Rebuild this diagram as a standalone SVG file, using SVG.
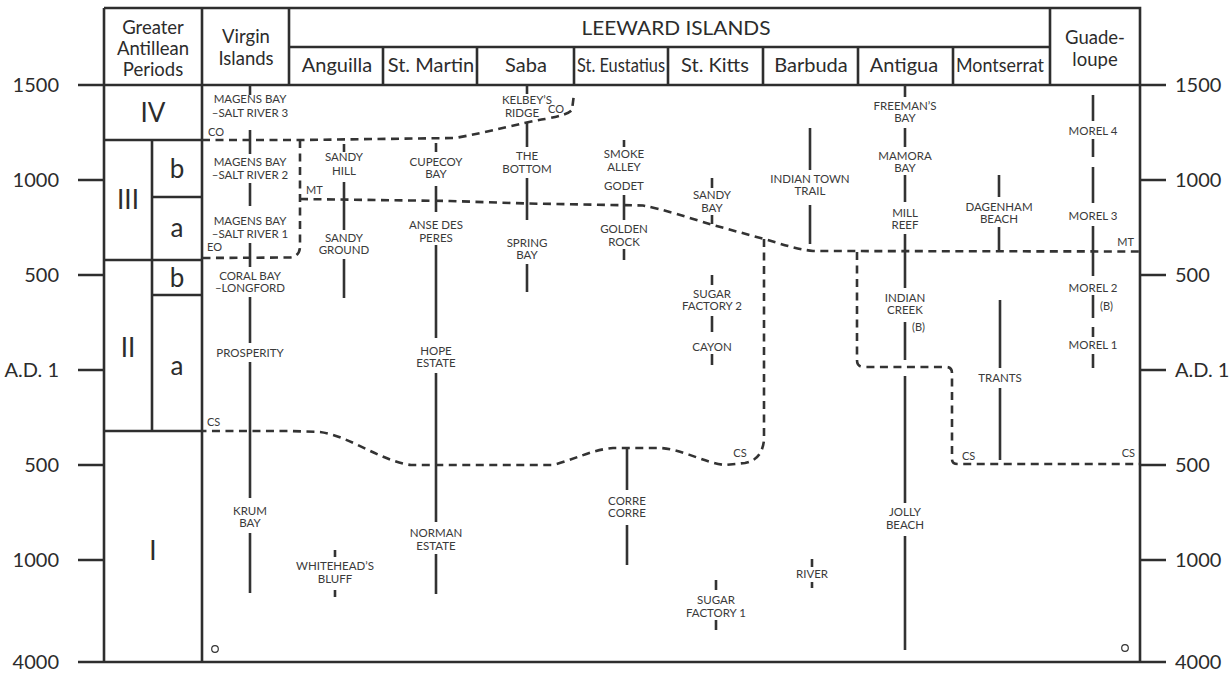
<svg xmlns="http://www.w3.org/2000/svg" width="1232" height="673" viewBox="0 0 1232 673">
<style>
text{font-family:Lato,"Open Sans","Liberation Sans",sans-serif;fill:#2c2c2c}
.fr{stroke:#2e2e2e;stroke-width:2.6;fill:none}
.sl{stroke:#333;stroke-width:2.6;fill:none}
.ds{stroke:#333;stroke-width:2.6;stroke-dasharray:8 5.5;fill:none}
.hd{font-size:20px;text-anchor:middle}
.hs{font-size:18.5px;text-anchor:middle}
.pd{font-size:26px;text-anchor:middle}
.lb{font-size:11.5px;text-anchor:middle;fill:#3a3a3a}
.tg{font-size:11px;fill:#3a3a3a}
.axl{font-size:20px;text-anchor:end}
.axr{font-size:20px;text-anchor:start}
</style>
<rect width="1232" height="673" fill="#fff"/>

<g id="frame" class="fr">
<path d="M104,8 H1140 V662 M104,8 V662 M78,662 H1166 M78,85 H1166"/>
<path d="M202,8 V662 M289,8 V85 M289,47 H1050 M1050,8 V85"/>
<path d="M383,47 V85 M477,47 V85 M574,47 V85 M668,47 V85 M763,47 V85 M858,47 V85 M953,47 V85"/>
<path d="M104,140 H202 M104,260 H202 M104,431 H202 M152,140 V431 M152,197 H202 M152,295 H202"/>
<path d="M78,180 H104 M78,275 H104 M78,370 H104 M78,465 H104 M78,560 H104"/>
<path d="M1140,180 H1166 M1140,275 H1166 M1140,370 H1166 M1140,465 H1166 M1140,560 H1166"/>
</g>

<g id="axis-left">
<text class="axl" x="59" y="92">1500</text>
<text class="axl" x="59" y="187">1000</text>
<text class="axl" x="59" y="282">500</text>
<text class="axl" x="59" y="377">A.D. 1</text>
<text class="axl" x="59" y="472">500</text>
<text class="axl" x="59" y="567">1000</text>
<text class="axl" x="59" y="669">4000</text>
</g>
<g id="axis-right">
<text class="axr" x="1175" y="92">1500</text>
<text class="axr" x="1175" y="187">1000</text>
<text class="axr" x="1175" y="282">500</text>
<text class="axr" x="1175" y="377">A.D. 1</text>
<text class="axr" x="1175" y="472">500</text>
<text class="axr" x="1175" y="567">1000</text>
<text class="axr" x="1175" y="669">4000</text>
</g>

<g id="headers">
<text class="hs" x="153" y="34">Greater</text>
<text class="hs" x="153" y="55">Antillean</text>
<text class="hs" x="153" y="76">Periods</text>
<text class="hs" x="246" y="43">Virgin</text>
<text class="hs" x="246" y="65">Islands</text>
<text class="hd" x="676" y="35" font-size="19" textLength="189" lengthAdjust="spacingAndGlyphs">LEEWARD ISLANDS</text>
<text class="hd" x="337" y="72">Anguilla</text>
<text class="hd" x="431" y="72">St. Martin</text>
<text class="hd" x="526" y="72">Saba</text>
<text class="hd" x="621" y="72" textLength="88" lengthAdjust="spacingAndGlyphs">St. Eustatius</text>
<text class="hd" x="715" y="72">St. Kitts</text>
<text class="hd" x="811" y="72">Barbuda</text>
<text class="hd" x="904" y="72">Antigua</text>
<text class="hd" x="1000" y="72" textLength="88" lengthAdjust="spacingAndGlyphs">Montserrat</text>
<text class="hs" x="1095" y="44">Guade-</text>
<text class="hs" x="1095" y="66">loupe</text>
</g>

<g id="periods">
<text class="pd" x="153" y="122">IV</text>
<text class="pd" x="128" y="209">III</text>
<text class="pd" x="177" y="178">b</text>
<text class="pd" x="177" y="237">a</text>
<text class="pd" x="128" y="357">II</text>
<text class="pd" x="177" y="287">b</text>
<text class="pd" x="177" y="375">a</text>
<text class="pd" x="153" y="560">I</text>
</g>

<g id="connectors">
<path class="ds" d="M202,140 L300,140 L455,138 C490,132 520,123 545,119 Q568,115 572,110 L574,94"/>
<path class="ds" d="M300,140 L300,246 Q300,257 289,257.5 L202,258"/>
<path class="ds" d="M300,199 L450,201 L527,203.5 L643,205.5 C662,209 690,218 713,225 L764,239 C782,244 795,249 813,251 L1140,251.5"/>
<path class="ds" d="M764,239 L764,440 Q762,460 745,463 L725,465 C705,463 682,449 660,448 L613,448 C595,449 575,459 553,465 L411,465 C380,461 350,436 320,432 L290,431 L202,431"/>
<path class="ds" d="M857,252 L857,360 Q857,367 864,367 L946,367 Q952,367 952,373 L952,459 Q952,464 958,464 L1140,464"/>
<text class="tg" x="208" y="136">CO</text>
<text class="tg" x="548" y="113">CO</text>
<text class="tg" x="207" y="251">EO</text>
<text class="tg" x="306" y="194">MT</text>
<text class="tg" x="1134" y="246" text-anchor="end">MT</text>
<text class="tg" x="207" y="426">CS</text>
<text class="tg" x="740" y="457" text-anchor="middle">CS</text>
<text class="tg" x="962" y="460">CS</text>
<text class="tg" x="1135" y="457" text-anchor="end">CS</text>
</g>

<g id="virgin-islands">
<path class="sl" d="M250,85 V95 M250,130 V154 M250,183 V206 M250,243 V267 M250,297 V343 M250,362 V498 M250,533 V593"/>
<text class="lb" x="250" y="103">MAGENS BAY</text>
<text class="lb" x="250" y="117">–SALT RIVER 3</text>
<text class="lb" x="250" y="166">MAGENS BAY</text>
<text class="lb" x="250" y="179">–SALT RIVER 2</text>
<text class="lb" x="250" y="225">MAGENS BAY</text>
<text class="lb" x="250" y="238">–SALT RIVER 1</text>
<text class="lb" x="250" y="280">CORAL BAY</text>
<text class="lb" x="250" y="292">–LONGFORD</text>
<text class="lb" x="250" y="357">PROSPERITY</text>
<text class="lb" x="250" y="515">KRUM</text>
<text class="lb" x="250" y="527">BAY</text>
</g>

<g id="anguilla">
<path class="sl" d="M344,144 V152 M344,182 V230 M344,259 V298 M335,550 V557 M335,590 V597"/>
<text class="lb" x="344" y="161">SANDY</text>
<text class="lb" x="344" y="175">HILL</text>
<text class="lb" x="344" y="242">SANDY</text>
<text class="lb" x="344" y="254">GROUND</text>
<text class="lb" x="335" y="570">WHITEHEAD’S</text>
<text class="lb" x="335" y="583">BLUFF</text>
</g>

<g id="st-martin">
<path class="sl" d="M436,143 V152 M436,186 V212 M436,245 V338 M436,373 V522 M436,554 V594"/>
<text class="lb" x="436" y="166">CUPECOY</text>
<text class="lb" x="436" y="178">BAY</text>
<text class="lb" x="436" y="229">ANSE DES</text>
<text class="lb" x="436" y="242">PERES</text>
<text class="lb" x="436" y="355">HOPE</text>
<text class="lb" x="436" y="367">ESTATE</text>
<text class="lb" x="436" y="537">NORMAN</text>
<text class="lb" x="436" y="550">ESTATE</text>
</g>

<g id="saba">
<path class="sl" d="M527,85 V94 M527,122 V147 M527,178 V220 M527,264 V292"/>
<text class="lb" x="527" y="104">KELBEY’S</text>
<text class="lb" x="522" y="117">RIDGE</text>
<text class="lb" x="527" y="160">THE</text>
<text class="lb" x="527" y="173">BOTTOM</text>
<text class="lb" x="527" y="247">SPRING</text>
<text class="lb" x="527" y="259">BAY</text>
</g>

<g id="st-eustatius">
<path class="sl" d="M624,140 V147 M624,195 V220 M624,249 V260 M627,448 V490 M627,525 V565"/>
<text class="lb" x="624" y="158">SMOKE</text>
<text class="lb" x="624" y="171">ALLEY</text>
<text class="lb" x="624" y="190">GODET</text>
<text class="lb" x="624" y="233">GOLDEN</text>
<text class="lb" x="624" y="246">ROCK</text>
<text class="lb" x="627" y="505">CORRE</text>
<text class="lb" x="627" y="517">CORRE</text>
</g>

<g id="st-kitts">
<path class="sl" d="M712,178 V188 M712,215 V224 M712,275 V285 M712,316 V332 M712,354 V365 M716,580 V590 M716,620 V630"/>
<text class="lb" x="712" y="199">SANDY</text>
<text class="lb" x="712" y="212">BAY</text>
<text class="lb" x="712" y="298">SUGAR</text>
<text class="lb" x="712" y="310">FACTORY 2</text>
<text class="lb" x="712" y="351">CAYON</text>
<text class="lb" x="716" y="604">SUGAR</text>
<text class="lb" x="716" y="617">FACTORY 1</text>
</g>

<g id="barbuda">
<path class="sl" d="M810,128 V170 M810,205 V244 M812,559 V567 M812,582 V588"/>
<text class="lb" x="810" y="183">INDIAN TOWN</text>
<text class="lb" x="810" y="195">TRAIL</text>
<text class="lb" x="812" y="578">RIVER</text>
</g>

<g id="antigua">
<path class="sl" d="M905,85 V97 M905,128 V147 M905,175 V202 M905,234 V288 M905,322 V360 M905,376 V503 M905,536 V650"/>
<text class="lb" x="905" y="110">FREEMAN’S</text>
<text class="lb" x="905" y="122">BAY</text>
<text class="lb" x="905" y="160">MAMORA</text>
<text class="lb" x="905" y="172">BAY</text>
<text class="lb" x="905" y="217">MILL</text>
<text class="lb" x="905" y="229">REEF</text>
<text class="lb" x="905" y="302">INDIAN</text>
<text class="lb" x="905" y="314">CREEK</text>
<text class="tg" x="912" y="331">(B)</text>
<text class="lb" x="905" y="516">JOLLY</text>
<text class="lb" x="905" y="529">BEACH</text>
</g>

<g id="montserrat">
<path class="sl" d="M999,175 V197 M999,227 V250 M1000,300 V368 M1000,388 V460"/>
<text class="lb" x="999" y="211">DAGENHAM</text>
<text class="lb" x="999" y="223">BEACH</text>
<text class="lb" x="1000" y="382">TRANTS</text>
</g>

<g id="guadeloupe">
<path class="sl" d="M1093,95 V121 M1093,139 V157 M1093,167 V203 M1093,226 V276 M1093,295 V318 M1093,327 V337 M1093,354 V368"/>
<text class="lb" x="1093" y="135">MOREL 4</text>
<text class="lb" x="1093" y="220">MOREL 3</text>
<text class="lb" x="1093" y="292">MOREL 2</text>
<text class="tg" x="1100" y="310">(B)</text>
<text class="lb" x="1093" y="349">MOREL 1</text>
</g>

<g id="marks" fill="none" stroke="#333" stroke-width="1.2">
<circle cx="215" cy="649" r="3.3"/>
<circle cx="1125" cy="648" r="3.3"/>
</g>
</svg>
